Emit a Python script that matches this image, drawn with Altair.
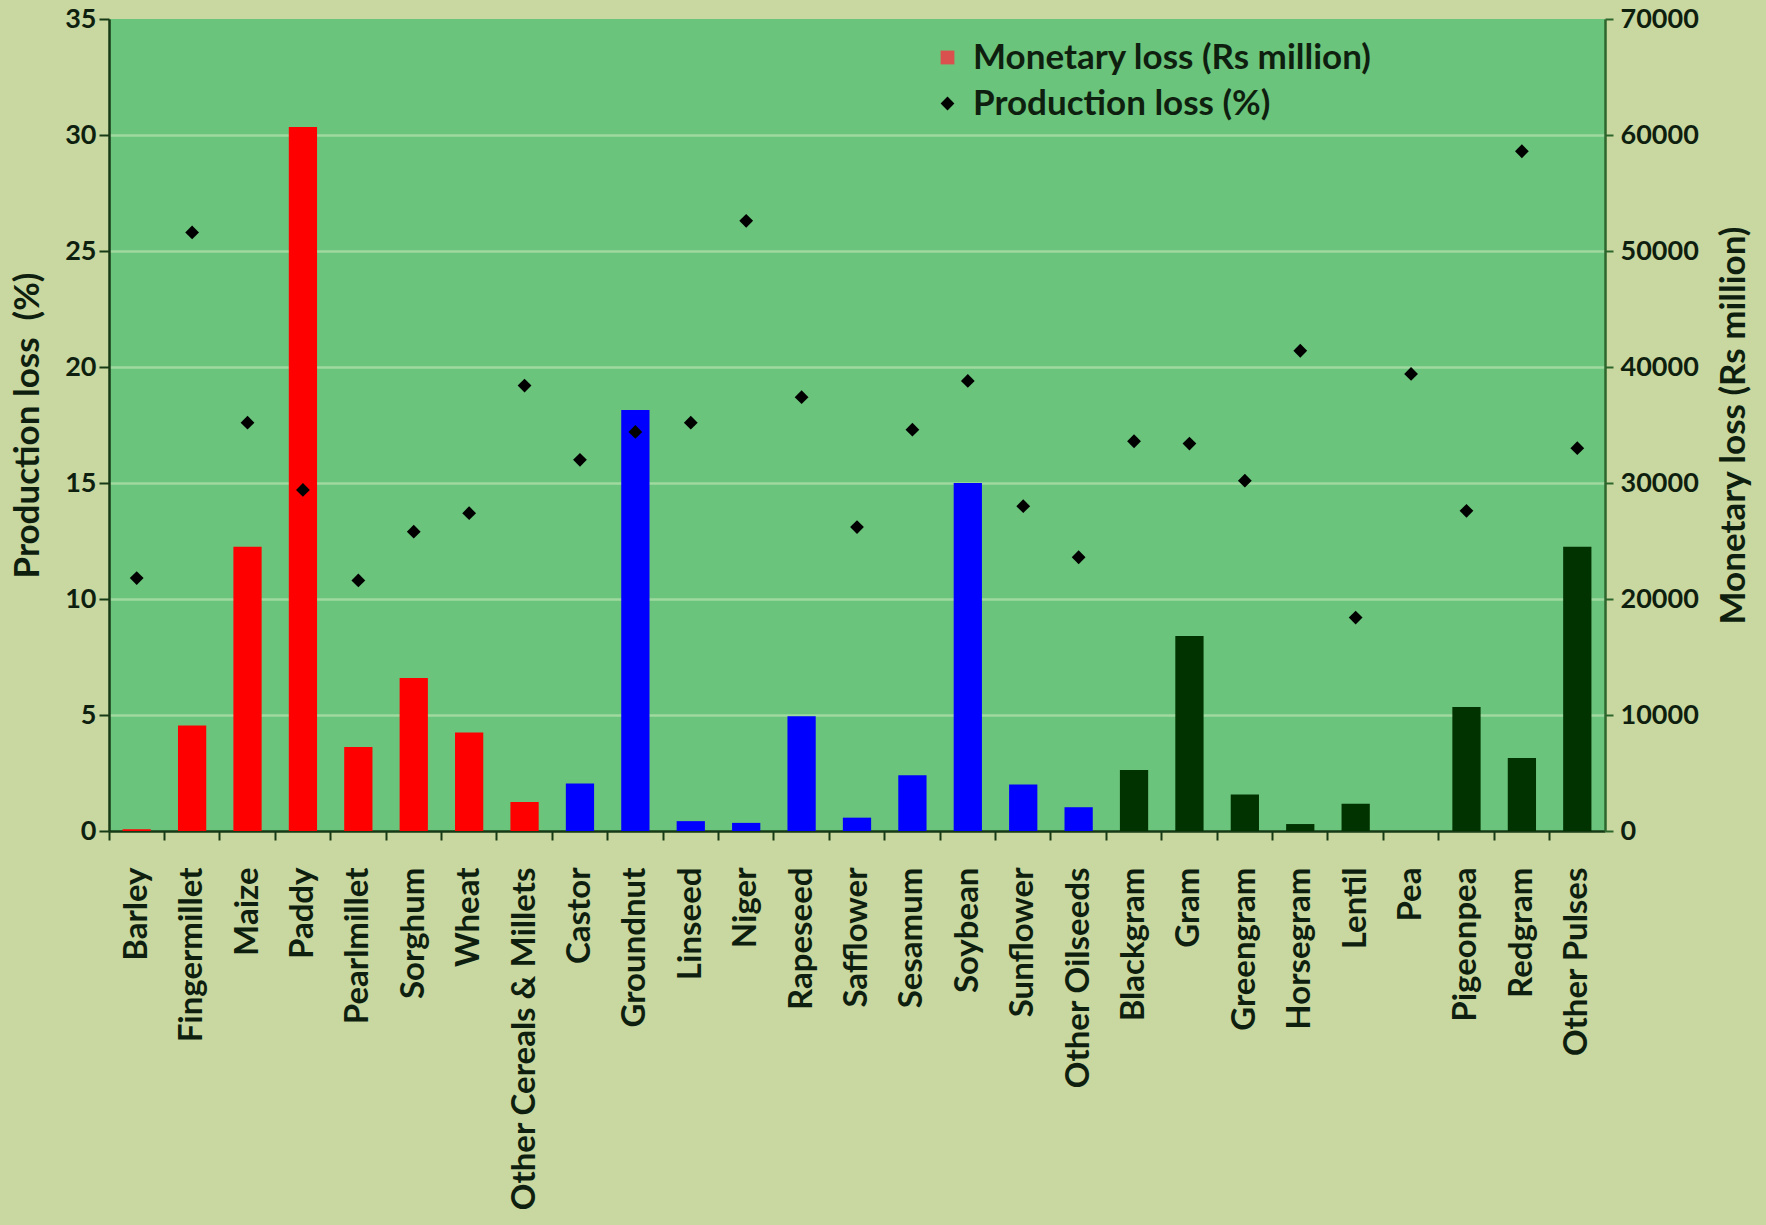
import altair as alt
import pandas as pd

# Crops, grouped as cereals, oilseeds and pulses
crops = [
    "Barley", "Fingermillet", "Maize", "Paddy", "Pearlmillet", "Sorghum", "Wheat",
    "Other Cereals & Millets",
    "Castor", "Groundnut", "Linseed", "Niger", "Rapeseed", "Safflower", "Sesamum",
    "Soybean", "Sunflower", "Other Oilseeds",
    "Blackgram", "Gram", "Greengram", "Horsegram", "Lentil", "Pea", "Pigeonpea",
    "Redgram", "Other Pulses",
]
groups = ["Cereals"] * 8 + ["Oilseeds"] * 10 + ["Pulses"] * 9

# Monetary loss (Rs million), right axis
monetary_loss = [
    150, 9100, 24500, 60700, 7250, 13200, 8500, 2500,
    4100, 36300, 850, 700, 9900, 1150, 4800, 30000, 4000, 2050,
    5250, 16800, 3150, 600, 2350, 0, 10700, 6300, 24500,
]

# Production loss (%), left axis
production_loss = [
    10.9, 25.8, 17.6, 14.7, 10.8, 12.9, 13.7, 19.2,
    16.0, 17.2, 17.6, 26.3, 18.7, 13.1, 17.3, 19.4, 14.0, 11.8,
    16.8, 16.7, 15.1, 20.7, 9.2, 19.7, 13.8, 29.3, 16.5,
]

group_names = ["Cereals", "Oilseeds", "Pulses"]
group_colors = ["#ff0000", "#0000ff", "#013301"]
legend_names = ["Monetary loss (Rs million)", "Production loss (%)"]

df = pd.DataFrame({
    "crop": crops,
    "group": groups,
    "monetary": monetary_loss,
    "production": production_loss,
    "series": legend_names[1],
})

FONT = "Lato"
TEXT = "#0f1f0f"
AXIS_DARK = "#163a16"

x_axis = alt.Axis(
    title=None,
    labelAngle=270,
    labelFontSize=33,
    labelPadding=27,
    labelLimit=0,
    bandPosition=0,
    tickSize=9,
    tickWidth=2,
    tickColor=AXIS_DARK,
    domainColor=AXIS_DARK,
    domainWidth=2.5,
)

bars = alt.Chart(df).mark_bar(width=alt.RelativeBandSize(0.51)).encode(
    x=alt.X("crop:N", sort=crops,
            scale=alt.Scale(paddingInner=0, paddingOuter=0), axis=x_axis),
    y=alt.Y(
        "monetary:Q",
        scale=alt.Scale(domain=[0, 70000], nice=False),
        axis=alt.Axis(
            orient="right",
            values=list(range(0, 70001, 10000)),
            format="d",
            title="Monetary loss (Rs million)",
            titleAngle=270,
            titlePadding=53,
            grid=False,
            tickSize=8,
            tickWidth=2,
            labelPadding=7,
            tickColor="#2c662c",
            domainColor="#2c662c",
            domainWidth=2.5,
        ),
    ),
    fill=alt.Fill("group:N",
                  scale=alt.Scale(domain=group_names, range=group_colors),
                  legend=None),
)

legend = alt.Legend(
    title=None,
    orient="none",
    legendX=821,
    legendY=21,
    labelFontSize=35,
    labelFont=FONT,
    labelFontWeight="bold",
    labelColor=TEXT,
    labelLimit=0,
    symbolSize=190,
    symbolStrokeWidth=0,
    rowPadding=10,
    labelOffset=8,
    padding=0,
)

points = alt.Chart(df).mark_point(filled=True, size=190, opacity=1).encode(
    x=alt.X("crop:N", sort=crops),
    y=alt.Y(
        "production:Q",
        scale=alt.Scale(domain=[0, 35], nice=False),
        axis=alt.Axis(
            orient="left",
            values=list(range(0, 36, 5)),
            title="Production loss\u00a0 (%)",
            titlePadding=19,
            grid=True,
            gridColor={
                "condition": {"test": "datum.value === 35 || datum.value === 0",
                              "value": "transparent"},
                "value": "#9fd99f",
            },
            gridWidth=2.5,
            tickSize=10,
            tickWidth=2,
            labelPadding=3,
            tickColor=AXIS_DARK,
            domainColor=AXIS_DARK,
            domainWidth=2.5,
        ),
    ),
    color=alt.Color("series:N",
                    scale=alt.Scale(domain=legend_names, range=["#d9504e", "#000000"]),
                    legend=legend),
    shape=alt.Shape("series:N",
                    scale=alt.Scale(domain=legend_names, range=["square", "diamond"]),
                    legend=legend),
)

chart = (
    alt.layer(bars, points)
    .resolve_scale(y="independent")
    .properties(
        width=1496,
        height=812,
        autosize=alt.AutoSizeParams(type="none"),
        padding={"left": 109, "top": 19, "right": 161, "bottom": 394},
        background="#c9d8a0",
    )
    .configure_view(fill="#6bc47b", stroke=None)
    .configure_axis(
        labelFont=FONT,
        titleFont=FONT,
        labelFontSize=27,
        titleFontSize=35,
        labelFontWeight="bold",
        titleFontWeight="bold",
        labelColor=TEXT,
        titleColor=TEXT,
    )
)

chart.save("out.html", embed_options={"renderer": "svg", "actions": False})
